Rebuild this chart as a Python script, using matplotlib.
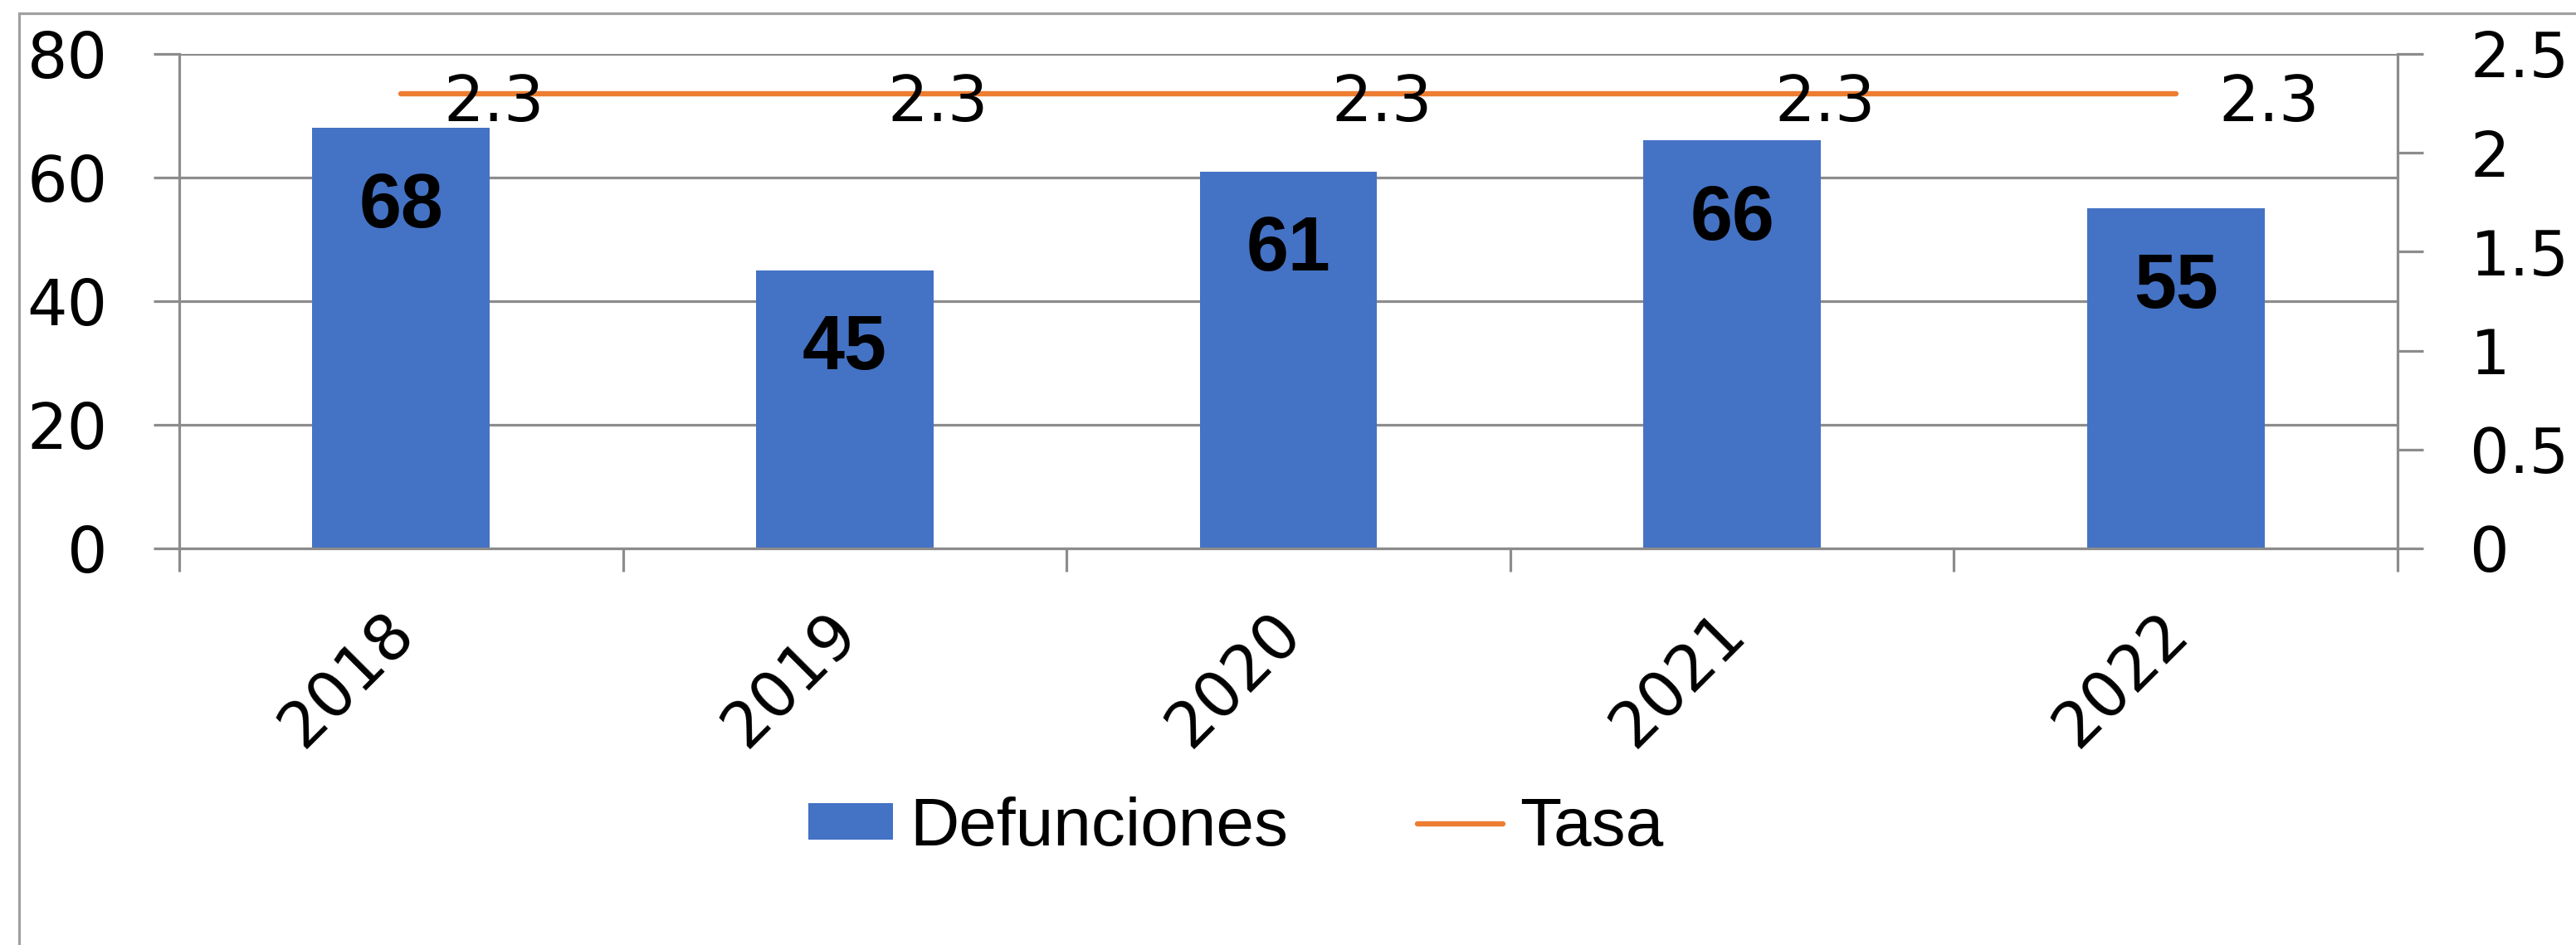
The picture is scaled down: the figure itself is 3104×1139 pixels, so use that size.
import matplotlib.pyplot as plt
import matplotlib.transforms as mtransforms
from matplotlib.patches import Rectangle
import numpy as np

# --------------------------------------------------------
#  Data
# --------------------------------------------------------
years       = ["2018", "2019", "2020", "2021", "2022"]
defunciones = [68, 45, 61, 66, 55]
tasa        = [2.3, 2.3, 2.3, 2.3, 2.3]

left_ticks  = [0, 20, 40, 60, 80]
right_ticks = [0, 0.5, 1, 1.5, 2, 2.5]
right_tick_labels = ["0", "0.5", "1", "1.5", "2", "2.5"]

BLUE   = "#4472C4"
ORANGE = "#ED7D31"
GRID   = "#8C8C8C"

# --------------------------------------------------------
#  Figure
# --------------------------------------------------------
W, H = 3104, 1139
fig = plt.figure(figsize=(W / 100, H / 100), dpi=100)
ax  = fig.add_axes([216 / W, 1 - 661 / H, (2889 - 216) / W, (661 - 65) / H])
ax2 = ax.twinx()

x = np.arange(len(years))
bars = ax.bar(x, defunciones, width=0.4, color=BLUE, zorder=2, label="Defunciones")

ax.set_xlim(-0.5, len(years) - 0.5)
ax.set_ylim(0, 80)
ax.set_yticks(left_ticks)
ax.yaxis.grid(True, color=GRID, linewidth=2.3, zorder=0)
ax.set_axisbelow(True)

for sp in ["top", "right"]:
    ax.spines[sp].set_visible(False)
for sp in ["left", "bottom"]:
    ax.spines[sp].set_color(GRID)
    ax.spines[sp].set_linewidth(2.3)

ax.tick_params(axis="y", direction="out", length=22, width=2.3, color=GRID,
               labelsize=55, pad=40)

# category boundaries as minor ticks, labels at centres
ax.set_xticks(x)
ax.set_xticklabels(years, rotation=45, ha="right", rotation_mode="default")
ax.set_xticks(np.arange(-0.5, len(years)), minor=True)
ax.tick_params(axis="x", which="major", length=0, labelsize=55, pad=46)
ax.tick_params(axis="x", which="minor", direction="out", length=20, width=2.3, color=GRID)
shift = mtransforms.ScaledTranslation(30 / 100, 0, fig.dpi_scale_trans)
for lbl in ax.get_xticklabels():
    lbl.set_transform(lbl.get_transform() + shift)

for xi, v in zip(x, defunciones):
    ax.annotate(str(v), (xi, v), xytext=(0, -86), textcoords="offset points",
                ha="center", va="baseline", fontsize=66, fontweight="bold",
                family="Liberation Sans", zorder=3)

# secondary axis: Tasa
line, = ax2.plot(x, tasa, color=ORANGE, linewidth=4.6, solid_capstyle="round",
                 label="Tasa", zorder=4)
ax2.set_ylim(0, 2.5)
ax2.set_yticks(right_ticks)
ax2.set_yticklabels(right_tick_labels)
for lbl in ax2.get_yticklabels():
    lbl.set_horizontalalignment("left")
for sp in ["top", "left", "bottom"]:
    ax2.spines[sp].set_visible(False)
ax2.spines["right"].set_color(GRID)
ax2.spines["right"].set_linewidth(2.3)
ax2.spines["right"].set_bounds(0, 2.5)
ax2.tick_params(axis="y", direction="out", length=22, width=2.3, color=GRID,
                labelsize=54, pad=41)

for xi, v in zip(x, tasa):
    ax2.annotate(f"{v:.1f}", (xi, v), xytext=(37, -24), textcoords="offset points",
                 ha="left", va="baseline", fontsize=55, zorder=5)

ax.spines["left"].set_bounds(0, 80)

# --------------------------------------------------------
#  Legend and outer frame
# --------------------------------------------------------
fig.legend([bars, line], ["Defunciones", "Tasa"], loc="center",
           bbox_to_anchor=(1489 / W, 1 - 998 / H), ncol=2, frameon=False,
           prop={"family": "Liberation Sans", "size": 59},
           handlelength=1.25, handleheight=0.45, handletextpad=0.25,
           columnspacing=1.9)

fig.patches.append(Rectangle((23 / W, -0.2), 1.2, 1.2 - 16 / H,
                             transform=fig.transFigure, fill=False,
                             edgecolor="#A0A0A0", linewidth=2.3))

fig.savefig("out.png", dpi=100)
